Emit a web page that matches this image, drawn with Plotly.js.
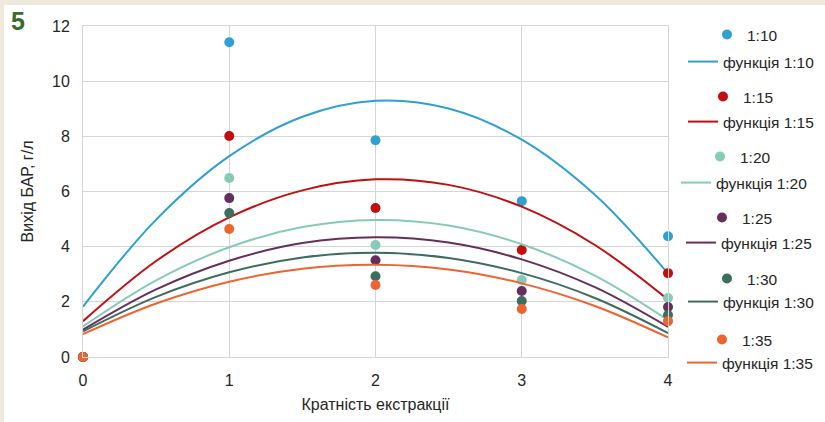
<!DOCTYPE html>
<html>
<head>
<meta charset="utf-8">
<script src="https://cdn.plot.ly/plotly-3.0.1.min.js"></script>
<style>html,body{margin:0;padding:0;background:#fff;}#chart{width:825px;height:422px;}</style>
</head>
<body>
<div id="chart"></div>
<script>
// ---- Data ----
const extraction = [0, 1, 2, 3, 4];            // Кратність екстракції
const ratios = ['1:10', '1:15', '1:20', '1:25', '1:30', '1:35'];

// measured points (Вихід БАР, г/л)
const y_1_10 = [0, 11.41, 7.86, 5.65, 4.38];
const y_1_15 = [0, 8.01, 5.40, 3.88, 3.04];
const y_1_20 = [0, 6.49, 4.06, 2.79, 2.14];
const y_1_25 = [0, 5.76, 3.51, 2.39, 1.81];
const y_1_30 = [0, 5.22, 2.93, 2.03, 1.52];
const y_1_35 = [0, 4.64, 2.61, 1.74, 1.30];

// trend curves ("функція")
const fitX = [0, 0.5, 1, 1.5, 2, 2.5, 3, 3.5, 4];
const f_1_10 = [1.83, 4.98, 7.28, 8.71, 9.29, 9.01, 7.88, 5.88, 3.03];
const f_1_15 = [1.30, 3.48, 5.06, 6.04, 6.44, 6.24, 5.45, 4.06, 2.08];
const f_1_20 = [1.11, 2.78, 3.98, 4.71, 4.97, 4.77, 4.09, 2.95, 1.34];
const f_1_25 = [0.99, 2.45, 3.49, 4.13, 4.34, 4.15, 3.54, 2.53, 1.09];
const f_1_30 = [0.93, 2.18, 3.07, 3.61, 3.78, 3.59, 3.04, 2.14, 0.87];
const f_1_35 = [0.83, 1.94, 2.73, 3.20, 3.34, 3.17, 2.67, 1.85, 0.71];

const xTicks = [0, 1, 2, 3, 4];
const yTicks = [0, 2, 4, 6, 8, 10, 12];

const pointSeries = [y_1_10, y_1_15, y_1_20, y_1_25, y_1_30, y_1_35];
const fitSeries = [f_1_10, f_1_15, f_1_20, f_1_25, f_1_30, f_1_35];
const colors = ['#2fa0cf', '#c20e0e', '#86cbb7', '#662f5b', '#3d6d5f', '#ee6430'];

// ---- geometry helpers (plot area in pixels) ----
const PL = 83, PR = 668, PT = 26, PB = 357;
const px = v => (v - PL) / (PR - PL);
const py = v => (PB - v) / (PB - PT);

// legend placement (text start x, centre y) in pixels
const markerLegend = [[748, 35], [744, 97], [741, 157], [743, 218], [748, 279], [743, 340]];
const lineLegend = [[724, 62], [724, 122], [717, 183], [722, 243], [724, 302], [723, 363]];

const traces = [];
const layout = {
  width: 825, height: 422,
  margin: {l: PL, r: 825 - PR, t: PT, b: 422 - PB, pad: 0, autoexpand: false},
  paper_bgcolor: '#ffffff',
  plot_bgcolor: '#ffffff',
  font: {family: '"Liberation Sans", Arial, sans-serif', size: 16, color: '#262626'},
  showlegend: true,
  xaxis: {
    range: [0, 4], tickvals: xTicks, ticktext: xTicks.map(String),
    showgrid: true, gridcolor: '#d6d6d6', gridwidth: 1,
    showline: true, linecolor: '#d6d6d6', linewidth: 1, mirror: true,
    zeroline: false, ticks: '', ticklabelstandoff: 9, fixedrange: true, automargin: false,
    title: {text: 'Кратність екстракції', standoff: 10, font: {size: 16}}
  },
  yaxis: {
    range: [0, 12], tickvals: yTicks, ticktext: yTicks.map(String),
    showgrid: true, gridcolor: '#d6d6d6', gridwidth: 1,
    showline: true, linecolor: '#d6d6d6', linewidth: 1, mirror: true,
    zeroline: false, ticks: '', ticklabelstandoff: 9, fixedrange: true, automargin: false,
    title: {text: 'Вихід БАР, г/л', standoff: 14, font: {size: 16}}
  },
  shapes: [
    {type: 'rect', xref: 'paper', yref: 'paper', x0: px(0), x1: px(4), y0: py(422), y1: py(0),
     fillcolor: '#efe8dc', line: {width: 0}, layer: 'below'},
    {type: 'rect', xref: 'paper', yref: 'paper', x0: px(0), x1: px(825), y0: py(5), y1: py(0),
     fillcolor: '#efe8dc', line: {width: 0}, layer: 'below'}
  ],
  annotations: [
    {text: '<b>5</b>', xref: 'paper', yref: 'paper', x: px(18), y: py(21), xanchor: 'center', yanchor: 'middle',
     showarrow: false, font: {family: '"Liberation Sans Narrow", "Liberation Sans", Arial', size: 25, color: '#3a6a2c'}}
  ]
};

ratios.forEach((r, i) => {
  const mKey = 'legend' + (2 * i === 0 ? '' : (2 * i + 1));
  const lKey = 'legend' + (2 * i + 2);
  traces.push({
    type: 'scatter', mode: 'markers', name: r, x: extraction, y: pointSeries[i],
    marker: {color: colors[i], size: 10}, cliponaxis: false, legend: mKey
  });
  traces.push({
    type: 'scatter', mode: 'lines', name: 'функція ' + r, x: fitX, y: fitSeries[i],
    line: {color: colors[i], width: 2, shape: 'spline', smoothing: 1}, cliponaxis: false, legend: lKey
  });
  const common = {xanchor: 'left', yanchor: 'middle', bgcolor: 'rgba(0,0,0,0)', borderwidth: 0,
                  font: {size: 15.5, color: '#262626'}, itemwidth: 30, tracegroupgap: 0};
  layout[mKey] = Object.assign({}, common, {x: px(markerLegend[i][0] - 41), y: py(markerLegend[i][1])});
  layout[lKey] = Object.assign({}, common, {x: px(lineLegend[i][0] - 41), y: py(lineLegend[i][1])});
});

Plotly.newPlot('chart', traces, layout, {displayModeBar: false, staticPlot: true});
</script>
</body>
</html>
